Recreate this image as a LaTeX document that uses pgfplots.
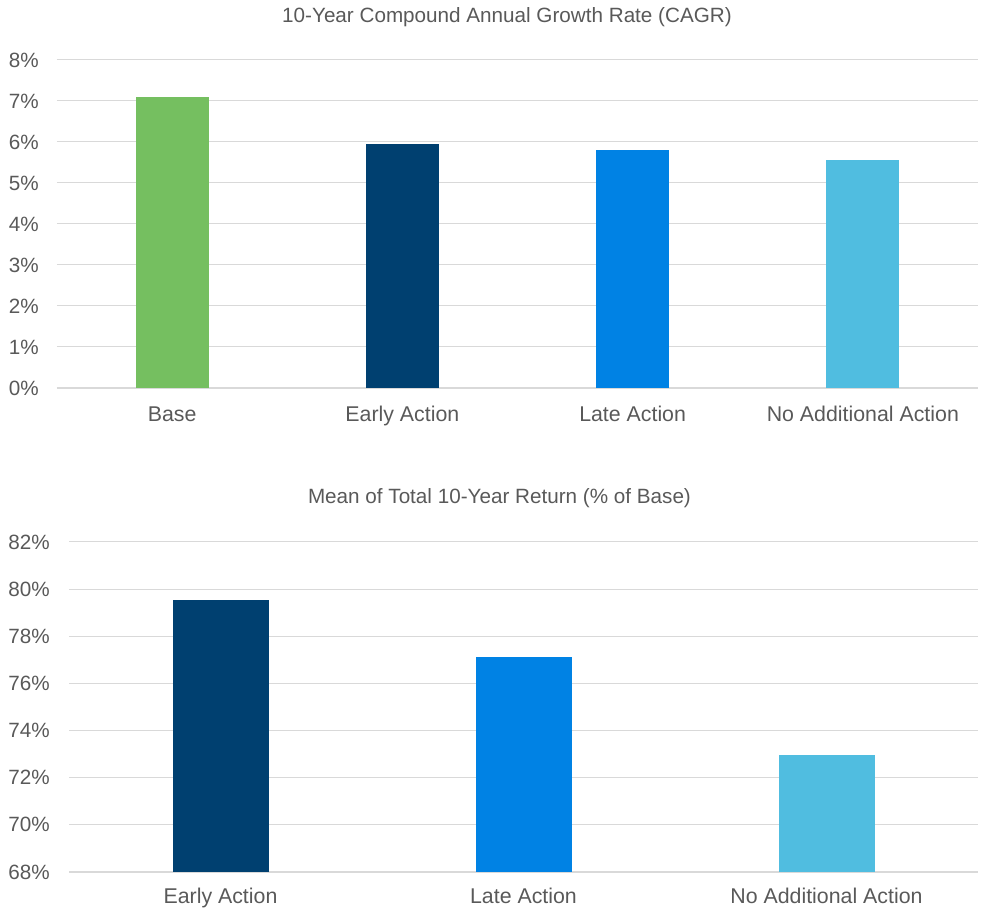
\documentclass[border=0pt]{standalone}
\usepackage{fontspec}
\setmainfont{Liberation Sans}
\usepackage{pgfplots}
\pgfplotsset{compat=1.18}
\definecolor{txt}{HTML}{595959}
\definecolor{gridc}{HTML}{D9D9D9}
\definecolor{cgreen}{HTML}{75BF60}
\definecolor{cnavy}{HTML}{004070}
\definecolor{cblue}{HTML}{0082E4}
\definecolor{clight}{HTML}{50BDE0}
\pgfplotsset{
  mystyle/.style={
    scale only axis, anchor=south west,
    axis x line*=bottom, axis y line*=left,
    every outer x axis line/.append style={-},
    every outer y axis line/.append style={-},
    y axis line style={draw=none},
    x axis line style={-, draw=gridc, line width=1.1pt},
    ymajorgrids, major grid style={draw=gridc, line width=0.75pt},
    major tick length=0pt,
    tick label style={font=\fontsize{15.5}{18}\selectfont, text=txt},
    yticklabel style={anchor=east, inner sep=0pt},
    xticklabel style={anchor=base, inner sep=0pt, font=\fontsize{16}{18}\selectfont},
  }
}
\begin{document}
\begin{tikzpicture}
\path[use as bounding box] (0,0) rectangle (737.25pt,683.25pt);
\begin{axis}[mystyle,
  at={(42.75pt,392.25pt)}, width=690.75pt, height=246pt,
  xmin=-0.5, xmax=3.5, ymin=0, ymax=8,
  xtick={0,1,2,3},
  xticklabels={Base, Early Action, Late Action, No Additional Action},
  xticklabel style={yshift=-25.5pt},
  ytick={0,1,2,3,4,5,6,7,8},
  yticklabels={0\%,1\%,2\%,3\%,4\%,5\%,6\%,7\%,8\%},
  yticklabel style={xshift=-13.5pt},
]
\addplot[ybar, bar shift=0pt, bar width=54.75pt, fill=cgreen, draw=none] coordinates {(0,7.10)};
\addplot[ybar, bar shift=0pt, bar width=54.75pt, fill=cnavy, draw=none] coordinates {(1,5.95)};
\addplot[ybar, bar shift=0pt, bar width=54.75pt, fill=cblue, draw=none] coordinates {(2,5.80)};
\addplot[ybar, bar shift=0pt, bar width=54.75pt, fill=clight, draw=none] coordinates {(3,5.56)};
\end{axis}
\begin{axis}[mystyle,
  at={(51.75pt,29.25pt)}, width=681.75pt, height=247.5pt,
  xmin=-0.5, xmax=2.5, ymin=68, ymax=82,
  xtick={0,1,2},
  xticklabels={Early Action, Late Action, No Additional Action},
  xticklabel style={yshift=-24pt},
  ytick={68,70,72,74,76,78,80,82},
  yticklabels={68\%,70\%,72\%,74\%,76\%,78\%,80\%,82\%},
  yticklabel style={xshift=-14.25pt},
]
\addplot[ybar, bar shift=0pt, bar width=72pt, fill=cnavy, draw=none] coordinates {(0,79.55)};
\addplot[ybar, bar shift=0pt, bar width=72pt, fill=cblue, draw=none] coordinates {(1,77.12)};
\addplot[ybar, bar shift=0pt, bar width=72pt, fill=clight, draw=none] coordinates {(2,72.95)};
\end{axis}
\node[anchor=base, text=txt, font=\fontsize{15.5}{18}\selectfont, inner sep=0pt] at (380.25pt,666pt) {10-Year Compound Annual Growth Rate (CAGR)};
\node[anchor=base, text=txt, font=\fontsize{15.5}{18}\selectfont, inner sep=0pt] at (374.6pt,305.25pt) {Mean of Total 10-Year Return (\% of Base)};
\end{tikzpicture}
\end{document}
